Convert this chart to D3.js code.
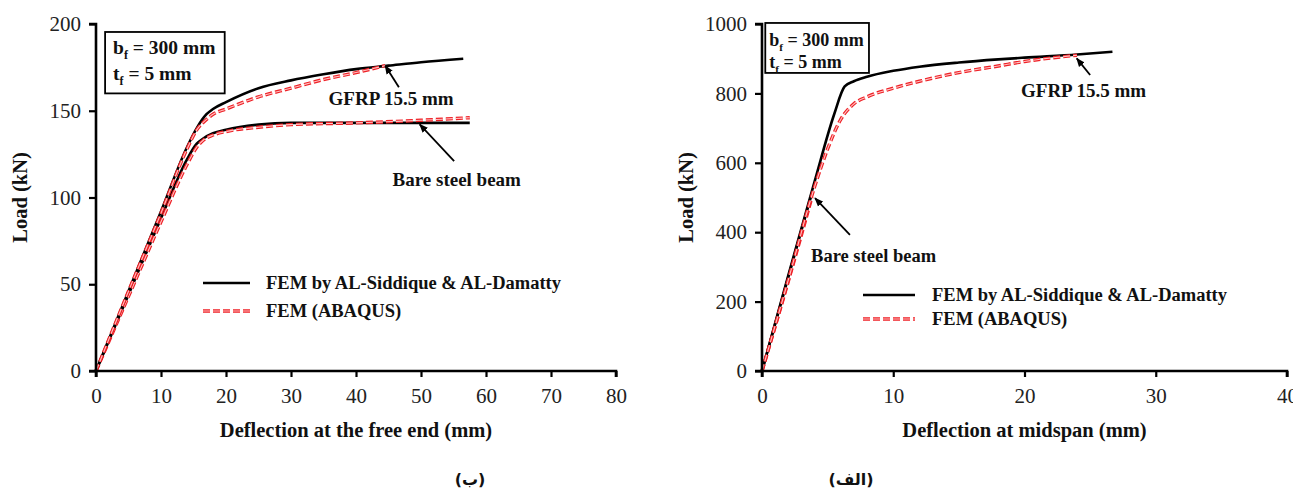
<!DOCTYPE html>
<html><head><meta charset="utf-8">
<script src="https://cdn.jsdelivr.net/npm/d3@7"></script>
<style>
body{margin:0;background:#fff;}
svg{display:block;}
text{font-family:"Liberation Serif","Times New Roman","DejaVu Serif",serif;fill:#111;}
</style></head>
<body>
<svg id="c" width="1293" height="492"></svg>
<script>
// ---------- DATA ----------
// Left chart (ب): Deflection at the free end
const leftXTicks = [0,10,20,30,40,50,60,70,80];
const leftYTicks = [0,50,100,150,200];
const leftGfrpRefX = [0,5,10,14,15.5,17,18,20,25,30,35,40,45,50,56.5];
const leftGfrpRefY = [0,46,92,129,140,148,151,155,163,167.5,171,174,176,178,180];
const leftGfrpAbqX = [0,5,10,14,15.5,17,18,20,25,30,35,40,44.5];
const leftGfrpAbqY = [0,46,91,128,139,145,148,151,158,163,168,172,176];
const leftBareRefX = [0,5,10,14,15.5,16.5,18,20,25,30,40,50,57.5];
const leftBareRefY = [0,44,88,122,131,134,137,139,142,143,143,143,143];
const leftBareAbqX = [0,5,10,14,15.5,16.5,18,20,25,30,40,50,57.5];
const leftBareAbqY = [0,43,86,119,129,133,136,138,140.5,142,143,144.5,146];

// Right chart (الف): Deflection at midspan
const rightXTicks = [0,10,20,30,40];
const rightYTicks = [0,200,400,600,800,1000];
const rightGfrpRefX = [0,2,4,5.5,6.3,7,8,10,12,15,18,20,24,26.7];
const rightGfrpRefY = [0,275,545,740,820,835,848,865,877,889,898,903,912,920];
const rightGfrpAbqX = [0,2,4,5,6,7,8,10,12,15,18,20,22,24];
const rightGfrpAbqY = [0,262,530,640,725,770,790,815,835,860,879,892,902,910];
const rightBareRefX = [0,2,3.8];
const rightBareRefY = [0,270,512];
const rightBareAbqX = [0,2,3.8];
const rightBareAbqY = [0,258,500];

const legendLabels = ["FEM by AL-Siddique & AL-Damatty","FEM (ABAQUS)"];
const captions = ["(ب)","(الف)"];

// ---------- DRAWING ----------
const svg = d3.select("#c");
const zip = (xs,ys)=>xs.map((x,i)=>[x,ys[i]]);
const SERIF = "'Liberation Serif','Times New Roman','DejaVu Serif',serif";

function drawPanel(o){
  const x = d3.scaleLinear().domain(o.xDom).range(o.xRange);
  const y = d3.scaleLinear().domain(o.yDom).range([371,24]);
  const g = svg.append("g");

  const line = d3.line().x(d=>x(d[0])).y(d=>y(d[1])).curve(d3.curveMonotoneX);

  o.series.forEach(s=>{
    const d = zip(s[0],s[1]);
    if(s[2]==="ref"){
      g.append("path").attr("d",line(d)).attr("fill","none").attr("stroke","#000").attr("stroke-width",2.6);
    } else {
      g.append("path").attr("d",line(d)).attr("fill","none").attr("stroke","#ee2026").attr("stroke-width",3.4).attr("stroke-dasharray","7,3");
      g.append("path").attr("d",line(d)).attr("fill","none").attr("stroke","#ffc2c2").attr("stroke-width",1.1).attr("stroke-dasharray","7,3");
    }
  });

  const ax = g.append("g").attr("transform","translate(0,371)")
    .call(d3.axisBottom(x).tickValues(o.xTicks).tickSize(6).tickPadding(11).tickFormat(d3.format("d")));
  const ay = g.append("g").attr("transform",`translate(${o.xRange[0]},0)`)
    .call(d3.axisLeft(y).tickValues(o.yTicks).tickSize(7).tickPadding(8).tickFormat(d3.format("d")));
  [ax,ay].forEach(a=>{
    a.attr("font-family",null).attr("font-size",null);
    a.select(".domain").attr("stroke","#000").attr("stroke-width",2.6);
    a.selectAll(".tick line").attr("stroke","#000").attr("stroke-width",2.2);
    a.selectAll(".tick text").style("font-family",SERIF).style("font-size","21px").style("fill","#222");
  });
  ax.select(".domain").attr("d",`M${o.xRange[0]},6V0H${o.xRange[1]}V6`);
  ay.select(".domain").attr("d",`M-7,${y(o.yDom[1])}H0V371H-7`);

  g.append("text").attr("x",(o.xRange[0]+o.xRange[1])/2).attr("y",437)
    .attr("text-anchor","middle").attr("font-weight","bold").attr("font-size",20.5).text(o.xTitle);
  g.append("text").attr("transform",`translate(${o.yTitleX},${y((o.yDom[0]+o.yDom[1])/2)}) rotate(-90)`)
    .attr("text-anchor","middle").attr("font-weight","bold").attr("font-size",20.5).text("Load (kN)");

  const b = o.box;
  g.append("rect").attr("x",x(b.x0)).attr("y",y(b.y1)).attr("width",x(b.x1)-x(b.x0)).attr("height",y(b.y0)-y(b.y1))
    .attr("fill","#fff").attr("stroke","#000").attr("stroke-width",1.8);
  [["b","300 mm",b.t1],["t","5 mm",b.t2]].forEach(r=>{
    const t = g.append("text").attr("x",x(b.x0)+b.pad).attr("y",y(r[2])).attr("font-weight","bold").attr("font-size",b.fs);
    t.append("tspan").text(r[0]);
    t.append("tspan").attr("dy",5).attr("font-size",b.fs*0.62).text("f");
    t.append("tspan").attr("dy",-5).text(" = "+r[1]);
  });

  o.notes.forEach(n=>{
    g.append("line").attr("x1",x(n.tail[0])).attr("y1",y(n.tail[1])).attr("x2",x(n.tip[0])).attr("y2",y(n.tip[1]))
      .attr("stroke","#000").attr("stroke-width",1.8).attr("marker-end","url(#arr)");
    g.append("text").attr("x",x(n.lab[0])).attr("y",y(n.lab[1])).attr("dy","0.35em").attr("text-anchor","middle")
      .attr("font-weight","bold").attr("font-size",n.fs).text(n.text);
  });

  const L = o.legend;
  legendLabels.forEach((lab,i)=>{
    const yy = L.y + i*L.gap;
    if(i===0){
      g.append("line").attr("x1",L.x).attr("x2",L.x+L.len).attr("y1",yy).attr("y2",yy).attr("stroke","#000").attr("stroke-width",2.6);
    } else {
      g.append("line").attr("x1",L.x).attr("x2",L.x+L.len).attr("y1",yy).attr("y2",yy).attr("stroke","#ee2026").attr("stroke-width",3.4).attr("stroke-dasharray","7,3");
      g.append("line").attr("x1",L.x).attr("x2",L.x+L.len).attr("y1",yy).attr("y2",yy).attr("stroke","#ffc2c2").attr("stroke-width",1.1).attr("stroke-dasharray","7,3");
    }
    g.append("text").attr("x",L.x+L.len+L.tgap).attr("y",yy).attr("dy","0.35em").attr("font-weight","bold").attr("font-size",L.fs).text(lab);
  });

  g.append("text").attr("x",o.capX).attr("y",485).attr("text-anchor","middle").attr("font-weight","bold")
    .attr("font-size",16).attr("direction","rtl").style("font-family","'DejaVu Sans'").text(o.caption);
}

svg.append("defs").append("marker").attr("id","arr").attr("viewBox","0 0 10 10").attr("refX",9).attr("refY",5)
  .attr("markerWidth",5).attr("markerHeight",5).attr("orient","auto").attr("markerUnits","strokeWidth")
  .append("path").attr("d","M0,1L10,5L0,9z").attr("fill","#000");

drawPanel({
  xDom:[0,80], xRange:[96,616], yDom:[0,200], xTicks:leftXTicks, yTicks:leftYTicks,
  series:[[leftBareRefX,leftBareRefY,"ref"],[leftBareAbqX,leftBareAbqY,"abq"],[leftGfrpRefX,leftGfrpRefY,"ref"],[leftGfrpAbqX,leftGfrpAbqY,"abq"]],
  xTitle:"Deflection at the free end (mm)", yTitleX:27,
  box:{x0:1.4,x1:19.8,y0:160,y1:195.4,t1:182.7,t2:167.5,fs:19.5,pad:8},
  notes:[{tip:[44.5,175.9],tail:[46.6,163.5],lab:[45.4,157],text:"GFRP 15.5 mm",fs:19},
         {tip:[49.8,142.2],tail:[55.1,121],lab:[55.5,110.5],text:"Bare steel beam",fs:19}],
  legend:{x:203,y:283,gap:28,len:47,tgap:16,fs:18.5},
  capX:470, caption:captions[0]
});
drawPanel({
  xDom:[0,40], xRange:[762,1287], yDom:[0,1000], xTicks:rightXTicks, yTicks:rightYTicks,
  series:[[rightBareRefX,rightBareRefY,"ref"],[rightBareAbqX,rightBareAbqY,"abq"],[rightGfrpRefX,rightGfrpRefY,"ref"],[rightGfrpAbqX,rightGfrpAbqY,"abq"]],
  xTitle:"Deflection at midspan (mm)", yTitleX:693,
  box:{x0:0.25,x1:8.15,y0:859,y1:1003,t1:936,t2:873,fs:18,pad:4},
  notes:[{tip:[23.98,901],tail:[25,853],lab:[24.5,810],text:"GFRP 15.5 mm",fs:19},
         {tip:[4.04,498],tail:[6.7,392],lab:[8.5,334],text:"Bare steel beam",fs:18.5}],
  legend:{x:863,y:295,gap:24,len:52,tgap:17,fs:18.5},
  capX:851, caption:captions[1]
});
</script>
</body></html>
